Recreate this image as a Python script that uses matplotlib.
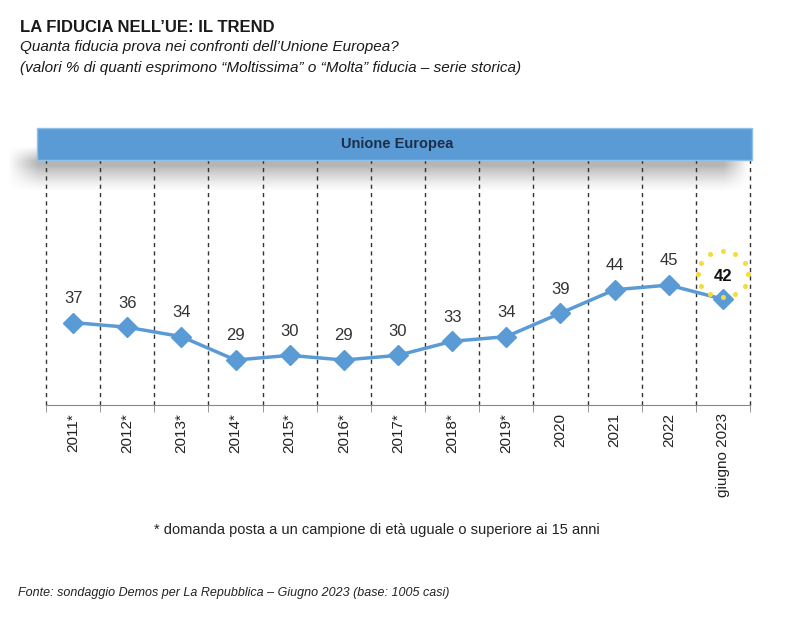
import numpy as np
import matplotlib
matplotlib.use("Agg")
import matplotlib.pyplot as plt
from matplotlib.patches import Rectangle
from matplotlib.transforms import offset_copy

plt.rcParams["font.family"] = ["Liberation Sans", "DejaVu Sans"]

anni = ["2011*", "2012*", "2013*", "2014*", "2015*", "2016*", "2017*",
        "2018*", "2019*", "2020", "2021", "2022", "giugno 2023"]
fiducia = [37, 36, 34, 29, 30, 29, 30, 33, 34, 39, 44, 45, 42]

blu = "#5B9BD5"

fig = plt.figure(figsize=(7.97, 6.25), dpi=100)
W, H = 797, 625

def fx(px):
    return px / W

def fy(py):
    return 1 - py / H

# titolo
fig.text(fx(20), fy(28), "LA FIDUCIA NELL\u2019UE: IL TREND", fontsize=12,
         fontweight="bold", color="#1a1a1a", va="center")
fig.text(fx(20), fy(47), "Quanta fiducia prova nei confronti dell\u2019Unione Europea?",
         fontsize=11, style="italic", color="#1a1a1a", va="center")
fig.text(fx(20), fy(68), "(valori % di quanti esprimono \u201cMoltissima\u201d o \u201cMolta\u201d fiducia \u2013 serie storica)",
         fontsize=11, style="italic", color="#1a1a1a", va="center")

# ombra sotto la banda (sfumatura), px 5..755 x 145..195
sh = fig.add_axes([fx(5), fy(195), fx(750), 50 / H], zorder=0)
ny, nx = 50, 750
rows = np.arange(ny)[:, None]
ypix = 195 - rows
salita = np.clip((ypix - 147) / 14.0, 0, 1)
discesa = np.clip((192 - ypix) / 26.0, 0, 1) ** 1.3
cols = np.arange(nx)[None, :] + 5
oriz = np.clip(np.minimum((cols - 8) / 30.0, (748 - cols) / 25.0), 0, 1)
alpha = salita * discesa * oriz * 0.5
img = np.zeros((ny, nx, 4))
img[..., :3] = 0.42
img[..., 3] = alpha
sh.imshow(img, aspect="auto", extent=(0, 1, 0, 1), origin="lower")
sh.axis("off")

# banda "Unione Europea"
fig.patches.append(Rectangle((fx(37), fy(160)), fx(715), 32 / H, transform=fig.transFigure,
                             facecolor=blu, edgecolor="#8fc0ea", lw=1, zorder=2))
fig.text(fx(397), fy(144), "Unione Europea", fontsize=10.5, fontweight="bold",
         color="#1c2e4a", ha="center", va="center", zorder=3)

ax = fig.add_axes([fx(46), fy(405), fx(750 - 46), (405 - 160) / H], zorder=1)
ax.patch.set_alpha(0)
x = np.arange(len(anni))
ax.set_xlim(-0.5, len(anni) - 0.5)
ax.set_ylim(19.4, 71.7)

for b in np.arange(len(anni) + 1) - 0.5:
    ax.axvline(b, color="#333333", lw=1.0, ls=(0, (3, 3)), zorder=1, clip_on=False)

ax.plot(x, fiducia, color=blu, lw=2.5, marker="D", markersize=10,
        markeredgecolor=blu, zorder=3)

for xi, v in zip(x[:-1], fiducia[:-1]):
    ax.annotate(str(v), (xi, v), xytext=(0, 12), textcoords="offset points",
                ha="center", va="bottom", fontsize=12, color="#333333")
ax.annotate(str(fiducia[-1]), (x[-1], fiducia[-1]), xytext=(0, 11), textcoords="offset points",
            ha="center", va="bottom", fontsize=12, fontweight="bold", color="#111111", zorder=5)

# cerchio di stelle
cx, cy = x[-1], fiducia[-1]
for ang in np.arange(12) * np.pi / 6:
    tr = offset_copy(ax.transData, fig=fig, x=25 * np.cos(ang), y=25 + 23 * np.sin(ang), units="dots")
    ax.plot(cx, cy, marker="o", markersize=2.6, color="#f2de3a", transform=tr,
            clip_on=False, zorder=4)

for s in ["top", "right", "left"]:
    ax.spines[s].set_visible(False)
ax.spines["bottom"].set_color("#888888")
ax.set_yticks([])
ax.set_xticks(np.arange(len(anni) + 1) - 0.5, minor=True)
ax.tick_params(axis="x", which="minor", length=5, color="#888888")
ax.set_xticks(x)
ax.set_xticklabels(anni, rotation=90, fontsize=11, color="#222222")
ax.tick_params(axis="x", which="major", length=0, pad=6)

fig.text(fx(377), fy(530), "* domanda posta a un campione di et\u00e0 uguale o superiore ai 15 anni",
         fontsize=10.5, color="#222222", ha="center", va="center")
fig.text(fx(18), fy(593), "Fonte: sondaggio Demos per La Repubblica \u2013 Giugno 2023 (base: 1005 casi)",
         fontsize=9, style="italic", color="#222222", va="center")

fig.savefig("out.png", dpi=100)
